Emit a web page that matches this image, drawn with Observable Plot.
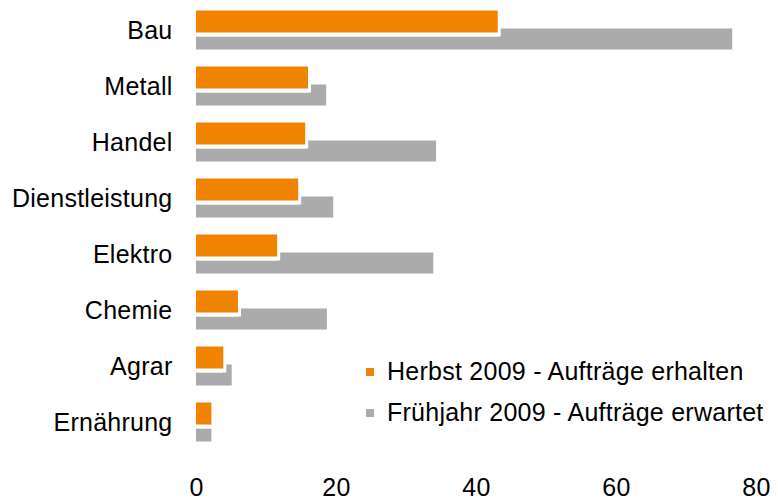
<!DOCTYPE html>
<html>
<head>
<meta charset="utf-8">
<script src="https://cdn.jsdelivr.net/npm/d3@7"></script>
<script src="https://cdn.jsdelivr.net/npm/@observablehq/plot@0.6"></script>
<style>
  html, body { margin: 0; padding: 0; background: #fff; }
  #wrap { position: relative; width: 778px; height: 501px; font-family: "Liberation Sans", Arial, sans-serif; }
  #wrap svg text { font-size: 25px; letter-spacing: 0.25px; fill: #000; }
  #legend { position: absolute; left: 366px; top: 351px; font-size: 25px; letter-spacing: 0.25px; color: #000; }
  #legend .row { display: flex; align-items: center; height: 41px; }
  #legend .sw { width: 8px; height: 8px; margin-right: 13px; flex: none; }
</style>
</head>
<body>
<div id="wrap"></div>
<script>
const categories = ["Bau", "Metall", "Handel", "Dienstleistung", "Elektro", "Chemie", "Agrar", "Ernährung"];
const herbst = [43.1, 16.0, 15.6, 14.6, 11.6, 6.0, 3.9, 2.2];
const fruehjahr = [76.6, 18.6, 34.3, 19.6, 33.9, 18.7, 5.1, 2.2];
const seriesNames = ["Herbst 2009 - Aufträge erhalten", "Frühjahr 2009 - Aufträge erwartet"];
const seriesColors = ["#F08300", "#ABABAB"];
const xTicks = [0, 20, 40, 60, 80];

const dataH = categories.map((c, i) => ({cat: c, v: herbst[i]}));
const dataF = categories.map((c, i) => ({cat: c, v: fruehjahr[i]}));

const chart = Plot.plot({
  width: 778,
  height: 501,
  marginLeft: 196,
  marginRight: 22,
  marginTop: 1.5,
  marginBottom: 51.5,
  style: {fontFamily: "'Liberation Sans', Arial, sans-serif", fontSize: "25px", color: "#000", background: "#fff"},
  x: {domain: [0, 80]},
  y: {domain: categories, padding: 0},
  marks: [
    Plot.barX(dataF, {x: "v", y: "cat", fill: seriesColors[1], insetTop: 26.5, insetBottom: 8.5}),
    Plot.barX(dataH, {x: "v", y: "cat", fill: "#fff", insetTop: 8.5, insetBottom: 25.5, dx: 3, dy: 4}),
    Plot.barX(dataH, {x: "v", y: "cat", fill: "#fff", insetTop: 8.5, insetBottom: 25.5, dy: 4}),
    Plot.barX(dataH, {x: "v", y: "cat", fill: seriesColors[0], insetTop: 8.5, insetBottom: 25.5}),
    Plot.axisY({tickSize: 0, tickPadding: 24, fontSize: 25, label: null, fill: "#000"}),
    Plot.axisX({ticks: xTicks, tickSize: 0, tickPadding: 28.5, fontSize: 25, label: null, fill: "#000", tickFormat: d => String(d)})
  ]
});

const wrap = document.getElementById("wrap");
wrap.appendChild(chart);
const legend = document.createElement("div");
legend.id = "legend";
seriesNames.forEach((name, i) => {
  const row = document.createElement("div");
  row.className = "row";
  const sw = document.createElement("span");
  sw.className = "sw";
  sw.style.background = seriesColors[i];
  const t = document.createElement("span");
  t.textContent = name;
  row.appendChild(sw);
  row.appendChild(t);
  legend.appendChild(row);
});
wrap.appendChild(legend);
</script>
</body>
</html>
